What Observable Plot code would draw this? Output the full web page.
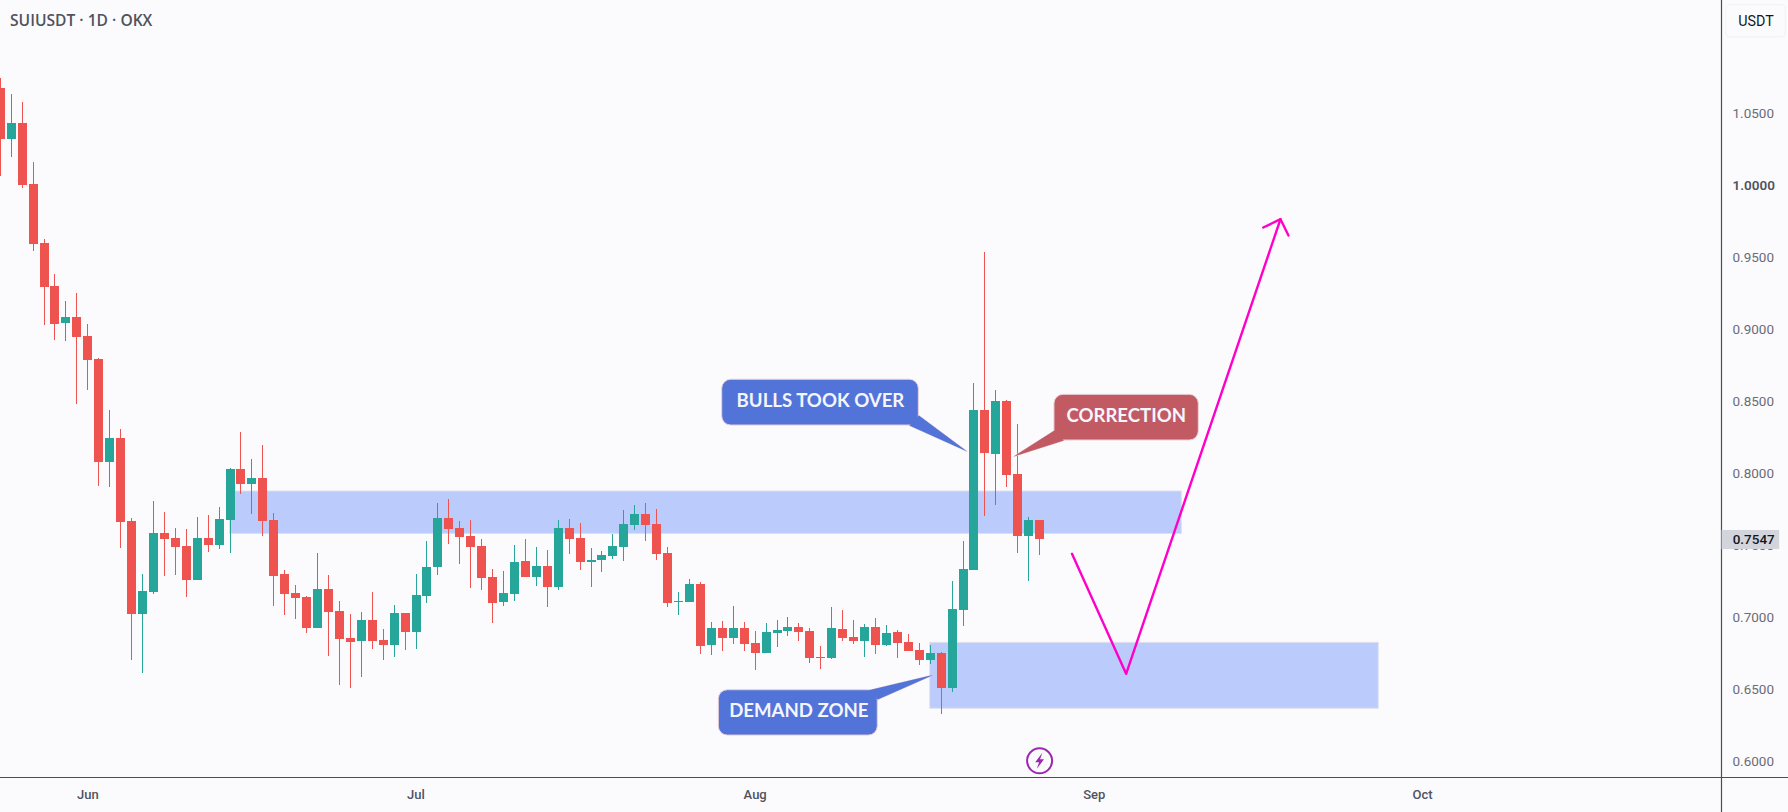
<!DOCTYPE html>
<html>
<head>
<meta charset="utf-8">
<style>html,body{margin:0;padding:0;background:#fbfbfd;overflow:hidden}</style>
<script src="https://cdn.jsdelivr.net/npm/d3@7"></script>
<script src="https://cdn.jsdelivr.net/npm/@observablehq/plot@0.6"></script>
</head>
<body>
<script>
const firstDay = "2024-05-24";
const opens = [1.0681,1.0328,1.0438,1.0014,.9604,.9306,.9051,.9090,.8958,.8799,
.8085,.8250,.7674,.7030,.7183,.7590,.7556,.7500,.7266,.7556,
.7509,.7683,.8035,.7933,.7972,.7681,.7306,.7174,.7146,.6933,
.7201,.7049,.6861,.6842,.6986,.6847,.6815,.7035,.6905,.7155,
.7356,.7694,.7625,.7569,.7500,.7285,.7113,.7169,.7396,.7287,
.7361,.7217,.7625,.7556,.7391,.7403,.7433,.7495,.7648,.7722,
.7653,.7451,.7111,.7113,.7236,.6815,.6931,.6863,.6931,.6826,
.6759,.6898,.6912,.6937,.6910,.6729,.6724,.6924,.6868,.6842,
.6937,.6815,.6903,.6833,.6778,.6710,.6757,.6516,.7058,.7335,
.8444,.8141,.8507,.8000,.7572,.7681];
const closes = [1.0328,1.0438,1.0009,.9599,.9301,.9044,.9090,.8953,.8794,.8085,
.8250,.7669,.7030,.7187,.7590,.7551,.7495,.7266,.7556,.7509,
.7687,.8035,.7933,.7972,.7676,.7294,.7169,.7141,.6933,.7201,
.7044,.6856,.6835,.6986,.6842,.6815,.7035,.6905,.7160,.7354,
.7694,.7620,.7565,.7495,.7280,.7106,.7174,.7389,.7287,.7361,
.7217,.7625,.7551,.7391,.7403,.7437,.7500,.7653,.7722,.7648,
.7447,.7106,.7118,.7236,.6808,.6931,.6863,.6931,.6822,.6759,
.6903,.6917,.6937,.6905,.6724,.6722,.6931,.6863,.6842,.6937,
.6815,.6896,.6828,.6773,.6710,.6757,.6516,.7063,.7340,.8444,
.8148,.8507,.7995,.7572,.7681,.7547];
const highs = [1.0750,1.0639,1.0583,1.0167,.9632,.9389,.9201,.9257,.9042,.8806,
.8444,.8312,.7694,.7306,.7812,.7736,.7625,.7618,.7701,.7715,
.7771,.8042,.8292,.8104,.8201,.7729,.7333,.7229,.7153,.7451,
.7299,.7118,.7028,.7042,.7181,.6924,.7090,.7035,.7306,.7535,
.7799,.7826,.7674,.7681,.7549,.7340,.7326,.7507,.7549,.7493,
.7472,.7681,.7687,.7660,.7486,.7465,.7583,.7750,.7785,.7799,
.7757,.7493,.7181,.7271,.7250,.6972,.6979,.7083,.6972,.6910,
.6965,.6986,.7007,.6965,.6931,.6806,.7076,.7056,.6986,.6958,
.7000,.6951,.6917,.6889,.6826,.6812,.6766,.7257,.7535,.8632,
.9542,.8583,.8514,.8347,.7701,.7681];
const lows = [1.0072,1.0203,.9988,.9551,.9035,.8933,.8926,.8486,.8585,.7919,
.7912,.7488,.6710,.6620,.7169,.7294,.7301,.7148,.7266,.7460,
.7481,.7453,.7863,.7724,.7572,.7085,.7023,.6995,.6898,.6933,
.6738,.6537,.6516,.6592,.6787,.6710,.6731,.6780,.6787,.7106,
.7301,.7516,.7377,.7210,.7197,.6967,.7085,.7120,.7287,.7224,
.7079,.7197,.7447,.7335,.7217,.7322,.7412,.7398,.7613,.7537,
.7405,.7079,.7023,.7113,.6752,.6745,.6773,.6822,.6773,.6641,
.6759,.6801,.6877,.6842,.6690,.6648,.6717,.6842,.6822,.6731,
.6752,.6808,.6724,.6773,.6676,.6683,.6335,.6488,.6947,.7335,
.7706,.7785,.7912,.7453,.7259,.7440];

const priceTicks = [1.05,.95,.9,.85,.8,.75,.7,.65,.6];
const boldTick = [1];
const monthTicks = ["2024-06-01","2024-07-01","2024-08-01","2024-09-01","2024-10-01"];
const lastPrice = 0.7547;

// days counted from 1 June, prices in USDT
const supplyZone = {d1: 13, d2: 100, p1: .7882, p2: .7587};
const demandZone = {d1: 77, d2: 118, p1: .6831, p2: .6373};
const pathDays = [89.96, 94.91, 109.02];
const pathPrices = [.7449, .6616, .9773];
const headDays = [107.44, 109.02, 109.75];
const headPrices = [.9715, .9773, .9660];
const callouts = [
  {label: "BULLS TOOK OVER", fill: "#5274d9", d1: 57.99, d2: 75.96, p1: .8658, p2: .8340, td: 66.97, tp: .8507,
   tailD: [75.1, 80.38, 75.96], tailP: [.8340, .8160, .8410]},
  {label: "CORRECTION", fill: "#c25a63", d1: 88.36, d2: 101.55, p1: .8553, p2: .8236, td: 94.92, tp: .8403,
   tailD: [88.36, 84.64, 89.21], tailP: [.8306, .8125, .8236]},
  {label: "DEMAND ZONE", fill: "#5274d9", d1: 57.68, d2: 72.21, p1: .6502, p2: .6187, td: 64.99, tp: .6354,
   tailD: [71.39, 77.33, 72.21], tailP: [.6502, .6609, .6437]}
];

const at = d => new Date(Date.UTC(2024, 5, 1) + d * 864e5);
const start = new Date(firstDay + "T00:00:00Z");
const candles = opens.map((o, i) => ({
  date: d3.utcDay.offset(start, i), o, c: closes[i], h: highs[i], l: lows[i],
  color: closes[i] >= o ? "#26a69a" : "#ef5350"
}));
const line = (days, prices) => days.map((d, i) => ({x: at(d), y: prices[i]}));
const boltSymbol = {draw(ctx) {
  ctx.moveTo(2.8, -8); ctx.lineTo(-4.4, 1.4); ctx.lineTo(-.5, 1.4);
  ctx.lineTo(-2.8, 8); ctx.lineTo(4.4, -1.4); ctx.lineTo(.5, -1.4); ctx.closePath();
}};
const axisColor = "#50535e";
const font = "Roboto, sans-serif";
const calloutFont = "Lato, sans-serif";

const chart = Plot.plot({
  width: 1788, height: 812,
  marginLeft: 0, marginRight: 67, marginTop: 0, marginBottom: 35,
  style: {background: "#fbfbfd", fontFamily: font},
  x: {type: "utc", domain: [at(-7.98), at(149.33)], range: [0, 1721], label: null},
  y: {type: "linear", domain: [.58958, 1.12917], range: [777, 0], label: null},
  marks: [
    Plot.axisX({ticks: monthTicks.map(d => new Date(d + "T00:00:00Z")), tickFormat: d3.utcFormat("%b"), tickSize: 0, tickPadding: 12, fontSize: 13, fontWeight: 500, fill: axisColor, label: null}),
    Plot.axisY({anchor: "right", ticks: priceTicks, tickFormat: d => d.toFixed(4), tickSize: 0, tickPadding: 11, fontSize: 13.5, fill: "#6a6d78", label: null, dy: -1}),
    Plot.axisY({anchor: "right", ticks: boldTick, tickFormat: d => d.toFixed(4), tickSize: 0, tickPadding: 11, fontSize: 13.5, fontWeight: 600, fill: axisColor, label: null, dy: -1}),
    Plot.rect([supplyZone, demandZone], {x1: d => at(d.d1), x2: d => at(d.d2), y1: "p1", y2: "p2", fill: "#bbccfc", stroke: "#dfe1ec", strokeWidth: 1}),
    Plot.ruleX(candles, {x: "date", y1: "l", y2: "h", stroke: "color", strokeWidth: 1, shapeRendering: "crispEdges"}),
    Plot.ruleX(candles, {x: "date", y1: "o", y2: "c", stroke: "color", strokeWidth: 9, shapeRendering: "crispEdges"}),
    Plot.line(line(pathDays, pathPrices), {x: "x", y: "y", stroke: "#ff00c8", strokeWidth: 2.4}),
    Plot.line(line(headDays, headPrices), {x: "x", y: "y", stroke: "#ff00c8", strokeWidth: 2.4}),
    ...callouts.flatMap(c => {
      const r = [c];
      const box = {x1: d => at(d.d1), x2: d => at(d.d2), y1: "p1", y2: "p2", rx: 9};
      const tail = line(c.tailD, c.tailP);
      return [
        Plot.line(tail, {x: "x", y: "y", curve: "linear-closed", fill: c.fill, stroke: "#ead0d8", strokeWidth: 1}),
        Plot.rect(r, {...box, fill: c.fill, stroke: "#ead0d8", strokeWidth: 1}),
        Plot.line(tail, {x: "x", y: "y", curve: "linear-closed", fill: c.fill, stroke: "none"}),
        Plot.text(r, {x: d => at(d.td), y: "tp", text: "label", fill: "#f4f6fe", fontFamily: calloutFont, fontWeight: 700, fontSize: 18.6})
      ];
    }),
    Plot.dot([{d: 87, p: .6012}], {x: d => at(d.d), y: "p", r: 12.5, fill: "none", stroke: "#9c27b0", strokeWidth: 2}),
    Plot.dot([{d: 87, p: .6012}], {x: d => at(d.d), y: "p", symbol: boltSymbol, r: 7, fill: "#9c27b0", stroke: "none"}),
    Plot.ruleY([.58958], {x1: at(-7.98), x2: at(155.5), stroke: "#4a4d57", strokeWidth: 1.2}),
    Plot.ruleX([at(149.33)], {y1: .5645, y2: 1.12917, stroke: "#4a4d57", strokeWidth: 1.2}),
    Plot.rect([{p1: .7611, p2: .7479}], {x1: at(149.38), x2: at(154.65), y1: "p1", y2: "p2", fill: "#d3d5dd"}),
    Plot.text([lastPrice], {x: at(150.35), y: d => d, text: d => d.toFixed(4), textAnchor: "start", fontSize: 13.5, fontWeight: 500, fill: "#131722"}),
    Plot.rect([{p1: 1.1259, p2: 1.1035}], {x1: at(149.77), x2: at(155.2), y1: "p1", y2: "p2", rx: 4, fill: "#fbfbfd", stroke: "#f0f1f6", strokeWidth: 1}),
    Plot.text(["USDT"], {x: at(152.48), y: 1.1145, text: d => d, fontSize: 14.3, fill: "#131722"}),
    Plot.text(["SUIUSDT · 1D · OKX"], {frameAnchor: "top-left", dx: 9.5, dy: 20.5, text: d => d, textAnchor: "start", lineAnchor: "middle", fontSize: 15.6, fontWeight: 600, fontFamily: "'Open Sans', sans-serif", fill: axisColor})
  ]
});
document.body.append(chart);
</script>
</body>
</html>
